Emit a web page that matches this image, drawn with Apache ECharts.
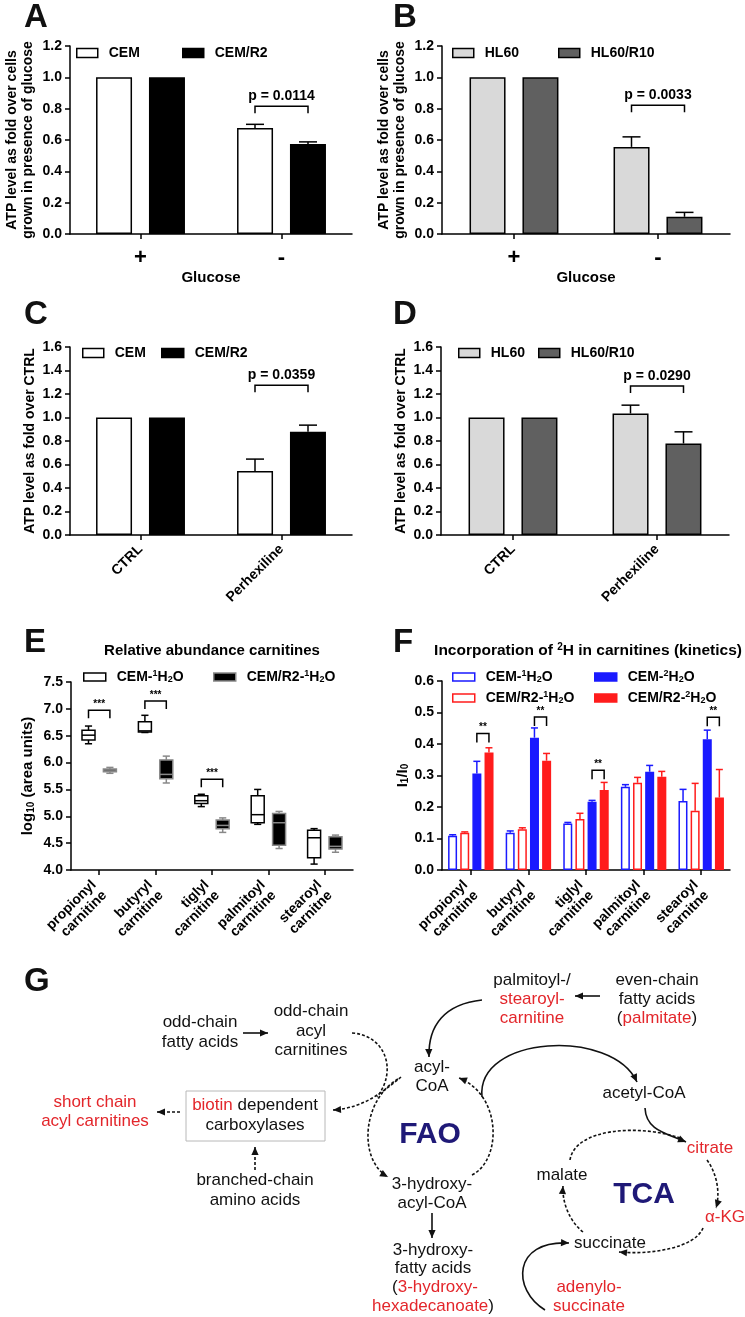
<!DOCTYPE html>
<html><head><meta charset="utf-8">
<script src="https://cdn.jsdelivr.net/npm/echarts@6/dist/echarts.min.js"></script>
<style>html,body{margin:0;padding:0;background:#fff}#c{width:745px;height:1317px}</style>
</head><body><div id="c"></div>
<script>
// ---------------- DATA ----------------
const glucoseCats = ['+', '-'];
const cemGlucose = [1.0, 0.677];
const cemGlucoseErr = [0, 0.023];
const cemR2Glucose = [1.0, 0.574];
const cemR2GlucoseErr = [0, 0.014];
const hl60Glucose = [1.0, 0.556];
const hl60GlucoseErr = [0, 0.064];
const hl60R10Glucose = [1.0, 0.110];
const hl60R10GlucoseErr = [0, 0.028];

const perhexCats = ['CTRL', 'Perhexiline'];
const cemPerhex = [1.0, 0.544];
const cemPerhexErr = [0, 0.102];
const cemR2Perhex = [1.0, 0.878];
const cemR2PerhexErr = [0, 0.057];
const hl60Perhex = [1.0, 1.034];
const hl60PerhexErr = [0, 0.071];
const hl60R10Perhex = [1.0, 0.779];
const hl60R10PerhexErr = [0, 0.099];

const carnitineCats = ['propionyl\ncarnitine', 'butyryl\ncarnitine', 'tiglyl\ncarnitine', 'palmitoyl\ncarnitine', 'stearoyl\ncarnitne'];
// box plots: [min, q1, median, q3, max]
const cemBox = [
  [6.35, 6.42, 6.51, 6.60, 6.68],
  [6.56, 6.57, 6.59, 6.76, 6.88],
  [5.18, 5.24, 5.29, 5.38, 5.41],
  [4.85, 4.88, 5.03, 5.38, 5.50],
  [4.11, 4.23, 4.60, 4.74, 4.77]
];
const cemR2Box = [
  [5.80, 5.83, 5.86, 5.88, 5.91],
  [5.62, 5.70, 5.78, 6.05, 6.12],
  [4.70, 4.77, 4.83, 4.93, 4.97],
  [4.40, 4.46, 4.88, 5.05, 5.09],
  [4.33, 4.39, 4.44, 4.62, 4.65]
];

const cem1H2O = [0.109, 0.118, 0.148, 0.264, 0.219];
const cem1H2OErr = [0.003, 0.006, 0.003, 0.007, 0.037];
const cemR21H2O = [0.118, 0.129, 0.162, 0.277, 0.188];
const cemR21H2OErr = [0.003, 0.005, 0.018, 0.017, 0.087];
const cem2H2O = [0.306, 0.420, 0.217, 0.312, 0.415];
const cem2H2OErr = [0.039, 0.031, 0.004, 0.020, 0.029];
const cemR22H2O = [0.373, 0.347, 0.254, 0.296, 0.230];
const cemR22H2OErr = [0.015, 0.023, 0.024, 0.017, 0.089];

// significance annotations: [category index, bracket height (data units), label]
const sigA = [[1, 0.816, 'p = 0.0114']];
const sigB = [[1, 0.822, 'p = 0.0033']];
const sigC = [[1, 1.274, 'p = 0.0359']];
const sigD = [[1, 1.268, 'p = 0.0290']];
const sigE = [[0, 6.974, '***'], [1, 7.147, '***'], [2, 5.691, '***']];
const sigF = [[0, 0.433, '**'], [1, 0.486, '**'], [2, 0.317, '**'], [4, 0.485, '**']];

// ---------------- STYLE HELPERS ----------------
const FONT = '"Liberation Sans", Arial, Helvetica, sans-serif';
const BLUE = '#1a1aff', REDB = '#ff1c1c', RED = '#e3262b', NAVY = '#1f1977';
const chart = echarts.init(document.getElementById('c'), null, {renderer: 'canvas', width: 745, height: 1317});

function yAxisCfg(gi, min, max, interval, name, nameGap, rich) {
  return {
    type: 'value', gridIndex: gi, min, max, interval,
    name, nameLocation: 'middle', nameRotate: 90, nameGap,
    nameTextStyle: {fontFamily: FONT, fontSize: 14, fontWeight: 'bold', color: '#000', lineHeight: 16, rich},
    axisLine: {show: true, lineStyle: {color: '#000', width: 1.5}},
    axisTick: {show: true, length: 5, inside: false, lineStyle: {color: '#000', width: 1.5}},
    axisLabel: {show: true, margin: 8, fontFamily: FONT, fontSize: 14, fontWeight: 'bold', color: '#000',
      formatter: v => v.toFixed(1)},
    splitLine: {show: false}
  };
}
function xAxisCfg(gi, cats, labelCfg, name, nameGap) {
  return {
    type: 'category', gridIndex: gi, data: cats, boundaryGap: true,
    axisLine: {show: true, onZero: false, lineStyle: {color: '#000', width: 1.5}},
    axisTick: {show: true, alignWithLabel: true, length: 5, lineStyle: {color: '#000', width: 1.5}},
    axisLabel: Object.assign({show: true, interval: 0, fontFamily: FONT, fontWeight: 'bold', color: '#000'}, labelCfg),
    splitLine: {show: false},
    name: name || '', nameLocation: 'middle', nameGap: nameGap || 0,
    nameTextStyle: {fontFamily: FONT, fontSize: 15, fontWeight: 'bold', color: '#000'}
  };
}
function barSeries(name, gi, data, width, gap, fill, stroke) {
  return {type: 'bar', name, xAxisIndex: gi, yAxisIndex: gi, data, barWidth: width, barGap: gap,
    itemStyle: {color: fill, borderColor: stroke, borderWidth: 1.5}, emphasis: {disabled: true}, z: 2};
}
function errSeries(gi, vals, errs, offset, capHalf, color) {
  return {
    type: 'custom', xAxisIndex: gi, yAxisIndex: gi, silent: true, z: 5, clip: false,
    data: vals.map((v, i) => [i, v, errs[i]]),
    renderItem(params, api) {
      const e = api.value(2);
      if (!e) return null;
      const p0 = api.coord([api.value(0), api.value(1)]);
      const p1 = api.coord([api.value(0), api.value(1) + e]);
      const x = p0[0] + offset;
      return {type: 'group', children: [
        {type: 'line', shape: {x1: x, y1: p0[1], x2: x, y2: p1[1]}, style: {stroke: color, lineWidth: 1.5}},
        {type: 'line', shape: {x1: x - capHalf, y1: p1[1], x2: x + capHalf, y2: p1[1]}, style: {stroke: color, lineWidth: 1.5}}
      ]};
    }
  };
}
function bracketSeries(gi, items, offL, offR, leg, fontSize, textGap) {
  return {
    type: 'custom', xAxisIndex: gi, yAxisIndex: gi, silent: true, z: 6, clip: false,
    data: items.map(b => [b[0], b[1]]),
    renderItem(params, api) {
      const label = items[params.dataIndex][2];
      const p = api.coord([api.value(0), api.value(1)]);
      const xl = p[0] + offL, xr = p[0] + offR, y = p[1];
      return {type: 'group', children: [
        {type: 'polyline', shape: {points: [[xl, y + leg], [xl, y], [xr, y], [xr, y + leg]]},
          style: {stroke: '#000', lineWidth: 1.5, fill: 'none'}},
        {type: 'text', x: (xl + xr) / 2, y: y - textGap,
          style: {text: label, fill: '#000', font: 'bold ' + fontSize + 'px ' + FONT,
            align: 'center', verticalAlign: 'bottom', textAlign: 'center', textVerticalAlign: 'bottom'}}
      ]};
    }
  };
}
function boxSeries(name, gi, data, offset, halfW, fill, stroke, medColor) {
  return {
    type: 'custom', name, xAxisIndex: gi, yAxisIndex: gi, silent: true, z: 4, clip: false,
    itemStyle: {color: fill, borderColor: stroke, borderWidth: 1.5},
    data: data.map((d, i) => [i].concat(d)),
    renderItem(params, api) {
      const c = api.value(0);
      const pMin = api.coord([c, api.value(1)]);
      const pQ1 = api.coord([c, api.value(2)]);
      const pMed = api.coord([c, api.value(3)]);
      const pQ3 = api.coord([c, api.value(4)]);
      const pMax = api.coord([c, api.value(5)]);
      const x = pMin[0] + offset, cap = halfW * 0.55;
      const ls = {stroke, lineWidth: 1.5};
      return {type: 'group', children: [
        {type: 'line', shape: {x1: x, y1: pQ3[1], x2: x, y2: pMax[1]}, style: ls},
        {type: 'line', shape: {x1: x - cap, y1: pMax[1], x2: x + cap, y2: pMax[1]}, style: ls},
        {type: 'line', shape: {x1: x, y1: pQ1[1], x2: x, y2: pMin[1]}, style: ls},
        {type: 'line', shape: {x1: x - cap, y1: pMin[1], x2: x + cap, y2: pMin[1]}, style: ls},
        {type: 'rect', shape: {x: x - halfW, y: pQ3[1], width: halfW * 2, height: pQ1[1] - pQ3[1]},
          style: {fill, stroke, lineWidth: 1.5}},
        {type: 'line', shape: {x1: x - halfW, y1: pMed[1], x2: x + halfW, y2: pMed[1]}, style: {stroke: medColor, lineWidth: 1.5}}
      ]};
    }
  };
}

// legend labels (rich text)
const legRich = {
  b: {fontFamily: FONT, fontSize: 14, fontWeight: 'bold', color: '#000', lineHeight: 16},
  sup: {fontFamily: FONT, fontSize: 9, fontWeight: 'bold', color: '#000', padding: [0, 0, 7, 0]},
  sub: {fontFamily: FONT, fontSize: 9, fontWeight: 'bold', color: '#000', padding: [6, 0, 0, 0]}
};
const isoLabel = (pre, n) => '{b|' + pre + '-}{sup|' + n + '}{b|H}{sub|2}{b|O}';
const legendLabels = {
  A_CEM: '{b|CEM}', A_R2: '{b|CEM/R2}', B_HL: '{b|HL60}', B_R10: '{b|HL60/R10}',
  C_CEM: '{b|CEM}', C_R2: '{b|CEM/R2}', D_HL: '{b|HL60}', D_R10: '{b|HL60/R10}',
  E_CEM: isoLabel('CEM', 1), E_R2: isoLabel('CEM/R2', 1),
  F_C1: isoLabel('CEM', 1), F_R1: isoLabel('CEM/R2', 1), F_C2: isoLabel('CEM', 2), F_R2: isoLabel('CEM/R2', 2)
};
function leg(name, left, cy, w, h, itemStyle) {
  return {
    data: [{name, itemStyle}], left, top: cy - 8, padding: 0, itemWidth: w, itemHeight: h, itemGap: 0,
    selectedMode: false, icon: 'rect', orient: 'horizontal',
    formatter: n => legendLabels[n],
    textStyle: {fontFamily: FONT, fontSize: 14, fontWeight: 'bold', color: '#000', padding: [0, 0, 0, 6], rich: legRich}
  };
}
const WHITE_BOX = {color: '#fff', borderColor: '#000', borderWidth: 1.5};
const BLACK_BOX = {color: '#000', borderColor: '#000', borderWidth: 1.5};
const LG = {color: '#d9d9d9', borderColor: '#000', borderWidth: 1.5};
const DG = {color: '#606060', borderColor: '#000', borderWidth: 1.5};

// ---------------- PANEL G DIAGRAM ----------------
const gFont = '17px ' + FONT;
const gRich = {r: {fill: RED, font: gFont}, k: {fill: '#111', font: gFont}};
function T(x, y, text, fill) {
  return {type: 'text', x, y, silent: true,
    style: {text, fill: fill || '#111', font: gFont, align: 'center', verticalAlign: 'middle',
      textAlign: 'center', textVerticalAlign: 'middle', rich: gRich}};
}
function head(x, y, dx, dy) {
  const L = Math.hypot(dx, dy), ux = dx / L, uy = dy / L, len = 8, hw = 3.6;
  const bx = x - ux * len, by = y - uy * len;
  return {type: 'polygon', silent: true,
    shape: {points: [[x, y], [bx - uy * hw, by + ux * hw], [bx + uy * hw, by - ux * hw]]},
    style: {fill: '#111'}};
}
function curve(p0, c1, c2, p3, dashed, arrow) {
  const out = [{type: 'bezierCurve', silent: true,
    shape: {x1: p0[0], y1: p0[1], cpx1: c1[0], cpy1: c1[1], cpx2: c2[0], cpy2: c2[1], x2: p3[0], y2: p3[1]},
    style: {stroke: '#111', lineWidth: 1.6, fill: null, lineDash: dashed ? [3, 2] : null}}];
  if (arrow) out.push(head(p3[0], p3[1], p3[0] - c2[0], p3[1] - c2[1]));
  return out;
}
function arrow(x1, y1, x2, y2, dashed) {
  return [{type: 'line', silent: true, shape: {x1, y1, x2, y2},
    style: {stroke: '#111', lineWidth: 1.6, lineDash: dashed ? [3, 2] : null}},
    head(x2, y2, x2 - x1, y2 - y1)];
}
function letter(x, y, t) {
  return {type: 'text', x, y, silent: true,
    style: {text: t, fill: '#111', font: 'bold 33px ' + FONT, align: 'left', verticalAlign: 'middle',
      textAlign: 'left', textVerticalAlign: 'middle'}};
}
const gElements = [].concat(
  letter(24, 18, 'A'), letter(393, 18, 'B'), letter(24, 315, 'C'), letter(393, 315, 'D'),
  letter(24, 643, 'E'), letter(393, 643, 'F'), letter(24, 982, 'G'),
  [{type: 'text', x: 212, y: 651, silent: true,
    style: {text: 'Relative abundance carnitines', fill: '#000', font: 'bold 15px ' + FONT,
      align: 'center', verticalAlign: 'middle', textAlign: 'center', textVerticalAlign: 'middle'}},
   {type: 'text', x: 588, y: 651, silent: true,
    style: {text: '{t|Incorporation of }{s|2}{t|H in carnitines (kinetics)}', fill: '#000', font: 'bold 15px ' + FONT,
      align: 'center', verticalAlign: 'middle', textAlign: 'center', textVerticalAlign: 'middle',
      rich: {t: {font: 'bold 15.5px ' + FONT, fill: '#000'}, s: {font: 'bold 10px ' + FONT, fill: '#000', padding: [0, 0, 7, 0]}}}}],
  // texts
  T(200, 1022, 'odd-chain'), T(200, 1042, 'fatty acids'),
  T(311, 1011, 'odd-chain'), T(311, 1031, 'acyl'), T(311, 1050, 'carnitines'),
  T(95, 1102, 'short chain', RED), T(95, 1121, 'acyl carnitines', RED),
  T(255, 1105, '{r|biotin}{k| dependent}'), T(255, 1125, 'carboxylases'),
  T(255, 1180, 'branched-chain'), T(255, 1200, 'amino acids'),
  T(532, 980, 'palmitoyl-/'), T(532, 999, 'stearoyl-', RED), T(532, 1018, 'carnitine', RED),
  T(657, 980, 'even-chain'), T(657, 999, 'fatty acids'), T(657, 1018, '{k|(}{r|palmitate}{k|)}'),
  T(432, 1067, 'acyl-'), T(432, 1086, 'CoA'),
  T(432, 1184, '3-hydroxy-'), T(432, 1203, 'acyl-CoA'),
  T(433, 1250, '3-hydroxy-'), T(433, 1268, 'fatty acids'), T(435, 1287, '{k|(}{r|3-hydroxy-}'),
  T(433, 1306, '{r|hexadecanoate}{k|)}'),
  T(644, 1093, 'acetyl-CoA'), T(710, 1148, 'citrate', RED), T(725, 1217, 'α-KG', RED),
  T(562, 1175, 'malate'), T(610, 1243, 'succinate'),
  T(589, 1287, 'adenylo-', RED), T(589, 1306, 'succinate', RED),
  [{type: 'text', x: 430, y: 1135, silent: true, style: {text: 'FAO', fill: NAVY, font: 'bold 30px ' + FONT,
     align: 'center', verticalAlign: 'middle', textAlign: 'center', textVerticalAlign: 'middle'}},
   {type: 'text', x: 644, y: 1195, silent: true, style: {text: 'TCA', fill: NAVY, font: 'bold 30px ' + FONT,
     align: 'center', verticalAlign: 'middle', textAlign: 'center', textVerticalAlign: 'middle'}},
   {type: 'rect', silent: true, shape: {x: 186, y: 1091, width: 139, height: 50},
     style: {fill: null, stroke: '#b8b8b8', lineWidth: 1}}],
  // arrows
  arrow(243, 1033, 268, 1033, false),
  curve([352, 1033], [385, 1035], [398, 1070], [377, 1097], true, false),
  curve([401, 1077], [385, 1090], [365, 1108], [333, 1110], true, true),
  curve([398, 1079], [362, 1100], [358, 1160], [388, 1177], true, true),
  curve([472, 1175], [502, 1160], [502, 1095], [459, 1078], true, true),
  curve([482, 1097], [476, 1035], [612, 1028], [637, 1082], false, true),
  curve([482, 1000], [445, 1004], [428, 1025], [429, 1057], false, true),
  arrow(600, 996, 575, 996, false),
  arrow(432, 1213, 432, 1238, false),
  curve([645, 1108], [646, 1130], [665, 1133], [686, 1142], false, true),
  curve([570, 1160], [575, 1128], [640, 1124], [680, 1138], true, false),
  curve([707, 1160], [718, 1175], [720, 1195], [716, 1208], true, true),
  curve([703, 1228], [695, 1248], [650, 1255], [619, 1252], true, true),
  curve([583, 1232], [568, 1220], [562, 1200], [563, 1186], true, true),
  curve([545, 1310], [512, 1290], [512, 1240], [569, 1243], false, true),
  arrow(180, 1112, 157, 1112, true),
  arrow(255, 1170, 255, 1147, true)
);

// ---------------- OPTION ----------------
const rotLabel = {rotate: 45, fontSize: 14, margin: 12};
const rotLabel2 = {rotate: 45, fontSize: 14, lineHeight: 15, margin: 18};
const option = {
  animation: false,
  backgroundColor: '#fff',
  grid: [
    {left: 70, top: 46, width: 282, height: 188, outerBoundsMode: 'none', containLabel: false},
    {left: 442, top: 46, width: 288, height: 188, outerBoundsMode: 'none', containLabel: false},
    {left: 70, top: 347, width: 282, height: 188, outerBoundsMode: 'none', containLabel: false},
    {left: 441, top: 347, width: 288, height: 188, outerBoundsMode: 'none', containLabel: false},
    {left: 71, top: 682, width: 282, height: 188, outerBoundsMode: 'none', containLabel: false},
    {left: 442, top: 681, width: 288, height: 189, outerBoundsMode: 'none', containLabel: false}
  ],
  xAxis: [
    xAxisCfg(0, glucoseCats, {fontSize: 22, margin: 13}, 'Glucose', 31),
    xAxisCfg(1, glucoseCats, {fontSize: 22, margin: 13}, 'Glucose', 31),
    xAxisCfg(2, perhexCats, rotLabel),
    xAxisCfg(3, perhexCats, rotLabel),
    xAxisCfg(4, carnitineCats, rotLabel2),
    xAxisCfg(5, carnitineCats, rotLabel2)
  ],
  yAxis: [
    yAxisCfg(0, 0, 1.2, 0.2, 'ATP level as fold over cells\ngrown in presence of glucose', 34),
    yAxisCfg(1, 0, 1.2, 0.2, 'ATP level as fold over cells\ngrown in presence of glucose', 34),
    yAxisCfg(2, 0, 1.6, 0.2, 'ATP level as fold over CTRL', 32),
    yAxisCfg(3, 0, 1.6, 0.2, 'ATP level as fold over CTRL', 31),
    yAxisCfg(4, 4.0, 7.5, 0.5, '{b|log}{s|10}{b| (area units)}', 35,
      {b: {fontFamily: FONT, fontSize: 15, fontWeight: 'bold', color: '#000'},
       s: {fontFamily: FONT, fontSize: 10, fontWeight: 'bold', color: '#000', padding: [6, 0, 0, 0]}}),
    yAxisCfg(5, 0, 0.6, 0.1, '{b|I}{s|1}{b|/I}{s|0}', 30,
      {b: {fontFamily: FONT, fontSize: 15, fontWeight: 'bold', color: '#000'},
       s: {fontFamily: FONT, fontSize: 10, fontWeight: 'bold', color: '#000', padding: [6, 0, 0, 0]}})
  ],
  legend: [
    leg('A_CEM', 76, 54, 21, 9, WHITE_BOX), leg('A_R2', 182, 54, 21, 9, BLACK_BOX),
    leg('B_HL', 452, 54, 21, 9, LG), leg('B_R10', 558, 54, 21, 9, DG),
    leg('C_CEM', 82, 354, 21, 9, WHITE_BOX), leg('C_R2', 161, 354, 22, 9, BLACK_BOX),
    leg('D_HL', 458, 354, 21, 9, LG), leg('D_R10', 538, 354, 21, 9, DG),
    leg('E_CEM', 83, 677, 22, 8, WHITE_BOX), leg('E_R2', 213, 677, 22, 8, {color: '#000', borderColor: '#888', borderWidth: 1.5}),
    leg('F_C1', 452, 677, 22, 8, {color: '#fff', borderColor: BLUE, borderWidth: 1.5}),
    leg('F_C2', 594, 677, 22, 8, {color: BLUE, borderColor: BLUE, borderWidth: 1.5}),
    leg('F_R1', 452, 698, 22, 8, {color: '#fff', borderColor: REDB, borderWidth: 1.5}),
    leg('F_R2', 594, 698, 22, 8, {color: REDB, borderColor: REDB, borderWidth: 1.5})
  ],
  series: [
    // A
    barSeries('A_CEM', 0, cemGlucose, 36, '47%', '#fff', '#000'),
    barSeries('A_R2', 0, cemR2Glucose, 36, '47%', '#000', '#000'),
    errSeries(0, cemGlucose, cemGlucoseErr, -26.5, 9, '#000'),
    errSeries(0, cemR2Glucose, cemR2GlucoseErr, 26.5, 9, '#000'),
    bracketSeries(0, sigA, -26.5, 26.5, 7, 14, 3),
    // B
    barSeries('B_HL', 1, hl60Glucose, 36, '47%', LG.color, '#000'),
    barSeries('B_R10', 1, hl60R10Glucose, 36, '47%', DG.color, '#000'),
    errSeries(1, hl60Glucose, hl60GlucoseErr, -26.5, 9, '#000'),
    errSeries(1, hl60R10Glucose, hl60R10GlucoseErr, 26.5, 9, '#000'),
    bracketSeries(1, sigB, -26.5, 26.5, 7, 14, 3),
    // C
    barSeries('C_CEM', 2, cemPerhex, 36, '47%', '#fff', '#000'),
    barSeries('C_R2', 2, cemR2Perhex, 36, '47%', '#000', '#000'),
    errSeries(2, cemPerhex, cemPerhexErr, -26.5, 9, '#000'),
    errSeries(2, cemR2Perhex, cemR2PerhexErr, 26.5, 9, '#000'),
    bracketSeries(2, sigC, -26.5, 26.5, 7, 14, 3),
    // D
    barSeries('D_HL', 3, hl60Perhex, 36, '47%', LG.color, '#000'),
    barSeries('D_R10', 3, hl60R10Perhex, 36, '47%', DG.color, '#000'),
    errSeries(3, hl60Perhex, hl60PerhexErr, -26.5, 9, '#000'),
    errSeries(3, hl60R10Perhex, hl60R10PerhexErr, 26.5, 9, '#000'),
    bracketSeries(3, sigD, -26.5, 26.5, 7, 14, 3),
    // E
    boxSeries('E_CEM', 4, cemBox, -10.7, 6.5, '#fff', '#000', '#000'),
    boxSeries('E_R2', 4, cemR2Box, 10.7, 6.5, '#000', '#888', '#888'),
    bracketSeries(4, sigE, -10.7, 10.7, 8, 10, 1),
    // F
    barSeries('F_C1', 5, cem1H2O, 9, '35%', '#fff', BLUE),
    barSeries('F_R1', 5, cemR21H2O, 9, '35%', '#fff', REDB),
    barSeries('F_C2', 5, cem2H2O, 9, '35%', BLUE, BLUE),
    barSeries('F_R2', 5, cemR22H2O, 9, '35%', REDB, REDB),
    errSeries(5, cem1H2O, cem1H2OErr, -18.15, 3.5, BLUE),
    errSeries(5, cemR21H2O, cemR21H2OErr, -6.05, 3.5, REDB),
    errSeries(5, cem2H2O, cem2H2OErr, 6.05, 3.5, BLUE),
    errSeries(5, cemR22H2O, cemR22H2OErr, 18.15, 3.5, REDB),
    bracketSeries(5, sigF, 6.05, 18.15, 9, 10, 1)
  ],
  graphic: {elements: gElements}
};
chart.setOption(option);
</script>
</body></html>
